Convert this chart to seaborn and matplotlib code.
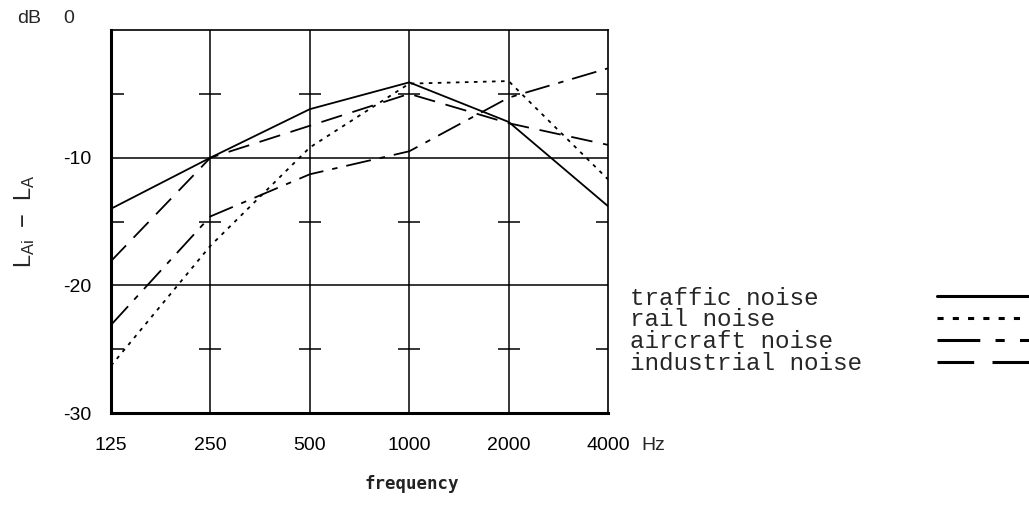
import numpy as np
import pandas as pd
import matplotlib
matplotlib.use("Agg")
import matplotlib.pyplot as plt
import seaborn as sns

# octave band centre frequencies (Hz)
freqs = [125, 250, 500, 1000, 2000, 4000]
freq_labels = ["125", "250", "500", "1000", "2000", "4000"]

# L_Ai - L_A per band, dB
traffic = [-14.0, -10.0, -6.2, -4.1, -7.2, -13.8]
rail = [-26.3, -16.9, -9.2, -4.2, -4.0, -11.7]
aircraft = [-23.1, -14.6, -11.3, -9.5, -5.3, -3.0]
industrial = [-18.1, -10.0, -7.5, -5.0, -7.3, -9.0]

names = ["traffic noise", "rail noise", "aircraft noise", "industrial noise"]
series = [traffic, rail, aircraft, industrial]

ytick_major = [-30, -20, -10]
ytick_minor = [-25, -15, -5]

df = pd.DataFrame({
    "freq": freqs * len(names),
    "level": [v for s in series for v in s],
    "noise": [n for n in names for _ in freqs],
})

dash_map = {
    "traffic noise": "",
    "rail noise": (2, 3),
    "aircraft noise": (14, 5, 3, 5),
    "industrial noise": (12, 6),
}

sns.set_theme(style="white")
plt.rcParams["font.family"] = ["Liberation Sans", "DejaVu Sans"]

fig = plt.figure(figsize=(10.29, 5.19), dpi=100)
ax = fig.add_axes([0.1079, 0.2042, 0.4830, 0.7380])

sns.lineplot(data=df, x="freq", y="level", style="noise", style_order=names,
             dashes=dash_map, color="black", linewidth=1.3, ax=ax,
             legend="full")
handles, labels = ax.get_legend_handles_labels()
ax.get_legend().remove()

ax.set_xscale("log", base=2)
ax.set_xlim(125, 4000)
ax.set_ylim(-30, 0)

# grid lines
for f in freqs[1:-1]:
    ax.axvline(f, color="black", lw=1.1, zorder=1)
for y in ytick_major[1:]:
    ax.axhline(y, color="black", lw=1.1, zorder=1)

# small cross marks on the inner grid lines
gx, gy = np.meshgrid(freqs[1:-1], ytick_minor)
ax.scatter(gx.ravel(), gy.ravel(), marker="_", s=260, color="black",
           linewidths=1.1, zorder=2)

ax.set_xticks(freqs)
ax.set_xticklabels(freq_labels)
ax.set_xticks([], minor=True)
ax.set_yticks(ytick_major)
ax.set_yticklabels([str(v) for v in ytick_major])
ax.set_yticks(ytick_minor, minor=True)
ax.tick_params(axis="both", which="major", length=0, labelsize=14,
               colors="black")
ax.tick_params(axis="x", which="major", pad=17)
ax.tick_params(axis="y", which="major", pad=14)
ax.tick_params(axis="y", which="minor", direction="in", length=9, width=1.1,
               left=True, right=True, color="black")

for side in ["left", "bottom"]:
    ax.spines[side].set_linewidth(2.2)
for side in ["top", "right"]:
    ax.spines[side].set_linewidth(1.2)
for sp in ax.spines.values():
    sp.set_color("black")

ax.set_xlabel("")
ax.set_ylabel(r"$\mathregular{L_{Ai}\ -\ L_A}$", fontsize=17)
ax.yaxis.set_label_coords(-0.148, 0.5)
ax.text(-0.085, 1.03, "0", transform=ax.transAxes, fontsize=14,
        ha="center", va="center")
ax.text(-0.165, 1.03, "dB", transform=ax.transAxes, fontsize=14,
        ha="center", va="center")
ax.annotate("Hz", xy=(4000, -30), xytext=(24, -17), textcoords="offset points",
            fontsize=14, ha="left", va="top")
fig.text(0.40, 0.067, "frequency", family="DejaVu Sans Mono", fontsize=12.5,
         fontweight="bold", color="#222222", ha="center", va="center")

# legend: label first, line sample after it; pad labels so text is left aligned
width = max(len(n) for n in labels)
labels = [n.ljust(width) for n in labels]
for h in handles:
    h.set_linewidth(2.2)
fig.legend(handles, labels, loc="upper left", bbox_to_anchor=(0.60, 0.471),
           markerfirst=False, frameon=False, handlelength=5.0,
           handletextpad=3.1, labelspacing=-0.05, borderpad=0,
           prop={"family": "Liberation Mono", "size": 17.5})

fig.savefig("out.png", dpi=100, facecolor="white")
